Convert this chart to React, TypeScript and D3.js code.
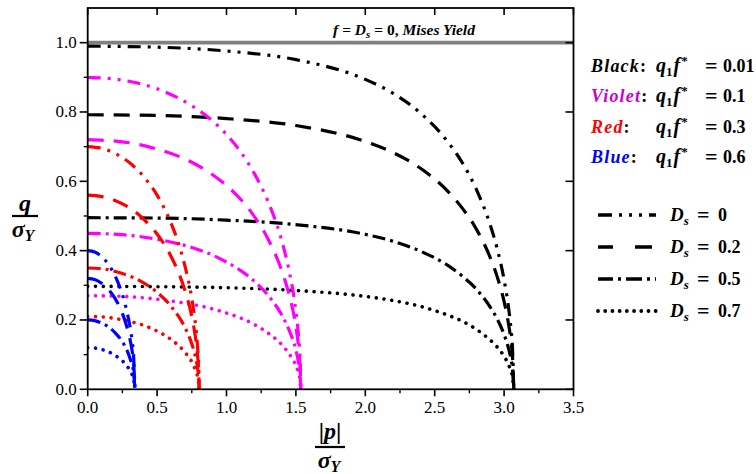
import React from "react";
import * as d3 from "d3";

// Axis ticks
const xTicks = [0, 0.5, 1.0, 1.5, 2.0, 2.5, 3.0, 3.5];
const xMinorTicks = [0.25, 0.75, 1.25, 1.75, 2.25, 2.75, 3.25];
const yTicks = [0, 0.2, 0.4, 0.6, 0.8, 1.0];
const yMinorTicks = [0.1, 0.3, 0.5, 0.7, 0.9];

// Mises yield level (f = Ds = 0)
const misesLevel = 1.0;

// Black: q1 f* = 0.01
const blackP = [0, 0.5, 1.0, 1.5, 2.0, 2.2, 2.4, 2.6, 2.7, 2.8, 2.9, 2.95, 3.0, 3.03, 3.05, 3.06, 3.07];
const blackDs0 = [0.990, 0.987, 0.976, 0.951, 0.894, 0.854, 0.796, 0.711, 0.653, 0.577, 0.474, 0.406, 0.316, 0.242, 0.172, 0.123, 0];
const blackDs02 = [0.792, 0.790, 0.781, 0.761, 0.715, 0.683, 0.637, 0.569, 0.522, 0.462, 0.380, 0.325, 0.253, 0.193, 0.138, 0.098, 0];
const blackDs05 = [0.495, 0.494, 0.488, 0.475, 0.447, 0.427, 0.398, 0.356, 0.326, 0.289, 0.237, 0.203, 0.158, 0.121, 0.086, 0.061, 0];
const blackDs07 = [0.297, 0.296, 0.293, 0.285, 0.268, 0.256, 0.239, 0.213, 0.196, 0.173, 0.142, 0.122, 0.095, 0.073, 0.052, 0.037, 0];

// Violet: q1 f* = 0.1
const violetP = [0, 0.25, 0.5, 0.75, 0.9, 1.0, 1.1, 1.2, 1.3, 1.4, 1.45, 1.5, 1.52, 1.53, 1.535];
const violetDs0 = [0.900, 0.892, 0.867, 0.818, 0.774, 0.735, 0.686, 0.623, 0.541, 0.426, 0.344, 0.225, 0.149, 0.086, 0];
const violetDs02 = [0.720, 0.714, 0.693, 0.655, 0.619, 0.588, 0.549, 0.499, 0.433, 0.340, 0.275, 0.180, 0.119, 0.069, 0];
const violetDs05 = [0.450, 0.446, 0.433, 0.409, 0.387, 0.367, 0.343, 0.312, 0.271, 0.213, 0.172, 0.113, 0.074, 0.043, 0];
const violetDs07 = [0.270, 0.268, 0.260, 0.245, 0.232, 0.220, 0.206, 0.187, 0.162, 0.128, 0.103, 0.068, 0.045, 0.026, 0];

// Red: q1 f* = 0.3
const redP = [0, 0.1, 0.2, 0.3, 0.4, 0.5, 0.6, 0.65, 0.7, 0.75, 0.77, 0.79, 0.8, 0.803];
const redDs0 = [0.700, 0.695, 0.680, 0.654, 0.615, 0.560, 0.480, 0.426, 0.357, 0.262, 0.208, 0.130, 0.060, 0];
const redDs02 = [0.560, 0.556, 0.544, 0.524, 0.492, 0.448, 0.384, 0.341, 0.286, 0.210, 0.166, 0.104, 0.048, 0];
const redDs05 = [0.350, 0.348, 0.340, 0.327, 0.308, 0.280, 0.240, 0.213, 0.179, 0.131, 0.104, 0.065, 0.030, 0];
const redDs07 = [0.210, 0.209, 0.204, 0.196, 0.185, 0.168, 0.144, 0.128, 0.107, 0.079, 0.062, 0.039, 0.018, 0];

// Blue: q1 f* = 0.6
const blueP = [0, 0.05, 0.1, 0.15, 0.2, 0.25, 0.28, 0.3, 0.32, 0.33, 0.3405];
const blueDs0 = [0.400, 0.396, 0.383, 0.360, 0.325, 0.273, 0.229, 0.191, 0.139, 0.101, 0];
const blueDs02 = [0.320, 0.317, 0.306, 0.288, 0.260, 0.219, 0.183, 0.153, 0.111, 0.081, 0];
const blueDs05 = [0.200, 0.198, 0.191, 0.180, 0.162, 0.137, 0.115, 0.095, 0.069, 0.051, 0];
const blueDs07 = [0.120, 0.119, 0.115, 0.108, 0.097, 0.082, 0.069, 0.057, 0.042, 0.030, 0];

// Porosity groups (colour) and damage levels (line style)
const groupNames = ["Black", "Violet", "Red", "Blue"];
const groupValues = ["0.01", "0.1", "0.3", "0.6"];
const dsLabels = ["0", "0.2", "0.5", "0.7"];

const groupColors = ["#000000", "#ff00ff", "#ff0000", "#0000ff"];
const groupTextColors = ["#000000", "#cc00cc", "#ff0000", "#0000ff"];

const groupData = [
  { p: blackP, curves: [blackDs0, blackDs02, blackDs05, blackDs07] },
  { p: violetP, curves: [violetDs0, violetDs02, violetDs05, violetDs07] },
  { p: redP, curves: [redDs0, redDs02, redDs05, redDs07] },
  { p: blueP, curves: [blueDs0, blueDs02, blueDs05, blueDs07] },
];

const dashStyles = [
  { dash: "13 7 3 7 3 7", cap: "butt", width: 3.2 },
  { dash: "16 10", cap: "butt", width: 3.2 },
  { dash: "13 5 3 5", cap: "butt", width: 3.2 },
  { dash: "0.01 7.8", cap: "round", width: 3.6 },
];
const legendDashes = ["14 7 3 7 3 7 3 7", "15 22 17 10", "15 5 3 5 16 5 3 5 3 5", "0.01 7.2"];

const W = 756;
const H = 474;
const plotLeft = 87.7;
const plotRight = 573.5;
const plotTop = 8;
const plotBottom = 389.3;

const FONT = "'Liberation Serif', 'Times New Roman', serif";

export default function App() {
  const x = d3.scaleLinear().domain([0, 3.5]).range([plotLeft, plotRight]);
  const y = d3.scaleLinear().domain([0, 1.1]).range([plotBottom, plotTop]);
  const line = d3
    .line<[number, number]>()
    .x((d) => x(d[0]))
    .y((d) => y(d[1]))
    .curve(d3.curveMonotoneX);

  const series = groupData.flatMap((g, gi) =>
    g.curves.map((qs, di) => ({
      key: `${gi}-${di}`,
      color: groupColors[gi],
      style: dashStyles[di],
      points: g.p.map((p, i) => [p, qs[i]] as [number, number]),
    }))
  );

  const legendTop = 72;
  const legendStep = 30.3;
  const dsTop = 215;
  const dsStep = 32;

  return (
    <svg
      width={W}
      height={H}
      style={{ position: "absolute", left: 0, top: 0, background: "#fff" }}
      fontFamily={FONT}
    >
      <defs>
        <clipPath id="plot-clip">
          <rect x={plotLeft} y={plotTop} width={plotRight - plotLeft} height={plotBottom - plotTop + 2} />
        </clipPath>
      </defs>

      {/* Mises reference line */}
      <line
        x1={x(0)}
        x2={x(3.5)}
        y1={y(misesLevel)}
        y2={y(misesLevel)}
        stroke="#808080"
        strokeWidth={3.6}
      />
      <text x={404} y={35} textAnchor="middle" fontSize={15.5} fontWeight="bold" fontStyle="italic">
        <tspan>f</tspan>
        <tspan fontStyle="normal"> = </tspan>
        <tspan>D</tspan>
        <tspan fontSize={11} dy={3}>s</tspan>
        <tspan fontStyle="normal" dy={-3}> = 0,</tspan>
        <tspan> Mises Yield</tspan>
      </text>

      {/* Yield surfaces */}
      <g clipPath="url(#plot-clip)">
        {series.map((s) => (
          <path
            key={s.key}
            d={line(s.points) || ""}
            fill="none"
            stroke={s.color}
            strokeWidth={s.style.width}
            strokeDasharray={s.style.dash}
            strokeLinecap={s.style.cap as any}
          />
        ))}
      </g>

      {/* Frame */}
      <rect
        x={plotLeft}
        y={plotTop}
        width={plotRight - plotLeft}
        height={plotBottom - plotTop}
        fill="none"
        stroke="#000"
        strokeWidth={1.8}
      />

      {/* Bottom axis ticks (outward) and top ticks (inward) */}
      {xTicks.map((t) => (
        <g key={`xt${t}`}>
          <line x1={x(t)} x2={x(t)} y1={plotBottom} y2={plotBottom + 7} stroke="#000" strokeWidth={1.6} />
          <line x1={x(t)} x2={x(t)} y1={plotTop} y2={plotTop + 7} stroke="#000" strokeWidth={1.6} />
          <text x={x(t)} y={plotBottom + 24} textAnchor="middle" fontSize={17}>
            {d3.format(".1f")(t)}
          </text>
        </g>
      ))}
      {xMinorTicks.map((t) => (
        <line key={`xm${t}`} x1={x(t)} x2={x(t)} y1={plotBottom} y2={plotBottom + 4} stroke="#000" strokeWidth={1.4} />
      ))}

      {/* Left axis ticks (outward) and right ticks (inward) */}
      {yTicks.map((t) => (
        <g key={`yt${t}`}>
          <line x1={plotLeft - 8} x2={plotLeft} y1={y(t)} y2={y(t)} stroke="#000" strokeWidth={1.6} />
          <line x1={plotRight - 8} x2={plotRight} y1={y(t)} y2={y(t)} stroke="#000" strokeWidth={1.6} />
          <text x={plotLeft - 11} y={y(t) + 5.5} textAnchor="end" fontSize={17}>
            {d3.format(".1f")(t)}
          </text>
        </g>
      ))}
      {yMinorTicks.map((t) => (
        <line key={`ym${t}`} x1={plotLeft - 4} x2={plotLeft} y1={y(t)} y2={y(t)} stroke="#000" strokeWidth={1.4} />
      ))}

      {/* Axis titles */}
      <g fontWeight="bold" fontStyle="italic" fontSize={24}>
        <text x={25} y={211} textAnchor="middle">q</text>
        <line x1={12} x2={38} y1={216} y2={216} stroke="#000" strokeWidth={2.2} />
        <text x={23} y={237} textAnchor="middle">
          <tspan>σ</tspan>
          <tspan fontSize={16} dy={4}>Y</tspan>
        </text>

        <text x={330} y={439} textAnchor="middle">
          <tspan fontStyle="normal">|</tspan>
          <tspan>p</tspan>
          <tspan fontStyle="normal">|</tspan>
        </text>
        <line x1={315} x2={345} y1={447} y2={447} stroke="#000" strokeWidth={2.2} />
        <text x={329} y={468} textAnchor="middle">
          <tspan>σ</tspan>
          <tspan fontSize={16} dy={4}>Y</tspan>
        </text>
      </g>

      {/* Colour legend */}
      {groupNames.map((name, i) => {
        const yy = legendTop + i * legendStep;
        return (
          <g key={name} fontWeight="bold" fontSize={18}>
            <text x={591} y={yy}>
              <tspan fontStyle="italic" fill={groupTextColors[i]} letterSpacing={1.2}>
                {name}
              </tspan>
              <tspan>:</tspan>
            </text>
            <text x={656} y={yy} fontSize={20}>
              <tspan fontStyle="italic">q</tspan>
              <tspan fontSize={13} dy={4}>1</tspan>
              <tspan fontStyle="italic" dy={-4} dx={1}>f</tspan>
              <tspan fontSize={13} dy={-7} dx={1}>*</tspan>
            </text>
            <text x={705} y={yy + 1} fontSize={22}>=</text>
            <text x={723} y={yy}>{groupValues[i]}</text>
          </g>
        );
      })}

      {/* Line-style legend */}
      {dsLabels.map((lab, i) => {
        const yy = dsTop + i * dsStep;
        return (
          <g key={lab} fontWeight="bold">
            <line
              x1={598}
              x2={656}
              y1={yy}
              y2={yy}
              stroke="#000"
              strokeWidth={i === 3 ? 3.8 : 3.6}
              strokeDasharray={legendDashes[i]}
              strokeLinecap={i === 3 ? "round" : "butt"}
            />
            <text x={670} y={yy + 6} fontSize={19}>
              <tspan fontStyle="italic">D</tspan>
              <tspan fontStyle="italic" fontSize={13} dy={4}>s</tspan>
            </text>
            <text x={697} y={yy + 7} fontSize={22}>=</text>
            <text x={718} y={yy + 6} fontSize={18}>{lab}</text>
          </g>
        );
      })}
    </svg>
  );
}
